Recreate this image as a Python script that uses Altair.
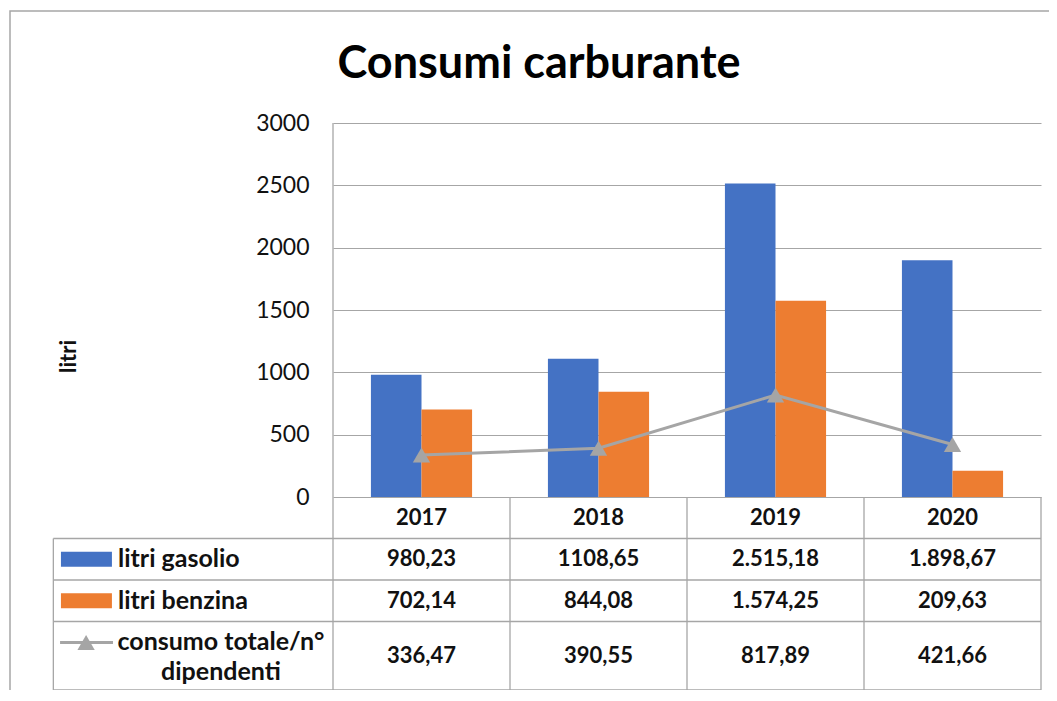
import altair as alt
import pandas as pd

# ---------------- data ----------------
years = ["2017", "2018", "2019", "2020"]
gasolio = [980.23, 1108.65, 2515.18, 1898.67]
benzina = [702.14, 844.08, 1574.25, 209.63]
consumo = [336.47, 390.55, 817.89, 421.66]
gasolio_txt = ["980,23", "1108,65", "2.515,18", "1.898,67"]
benzina_txt = ["702,14", "844,08", "1.574,25", "209,63"]
consumo_txt = ["336,47", "390,55", "817,89", "421,66"]
series_names = ["litri gasolio", "litri benzina", "consumo totale/n° dipendenti"]
y_ticks = [0, 500, 1000, 1500, 2000, 2500, 3000]
title_text = "Consumi carburante"
y_title = "litri"

# ---------------- style / layout ----------------
BLUE = "#4472C4"
ORANGE = "#ED7D31"
GRAY = "#A5A5A5"
LINEC = "#A6A6A6"
TXT = "#111111"
FONT = "Lato"

W = 708          # plot + table width
H = 567          # plot + table height
PLOT_H = 374     # height of the bar plot part
Y_MAX = 3000
y_min = -Y_MAX * (H - PLOT_H) / PLOT_H

ROW_H = [1, 1, 1, 1.65]            # header, gasolio, benzina, consumo (row units)
unit_px = (H - PLOT_H) / sum(ROW_H)
LABEL_COL = 1.58                   # width of the label column, in column units
n = len(years)

edges = [0.0]
for h in ROW_H:
    edges.append(edges[-1] - h)
centers = [(edges[i] + edges[i + 1]) / 2 for i in range(len(ROW_H))]

tx = alt.Scale(domain=[0, n], nice=False, zero=False)
ty = alt.Scale(domain=[edges[-1], PLOT_H / unit_px], nice=False, zero=False)

# ---------------- bar plot ----------------
bars_df = pd.DataFrame({
    "year": years * 2,
    "serie": [series_names[0]] * n + [series_names[1]] * n,
    "value": gasolio + benzina,
})
line_df = pd.DataFrame({"year": years, "value": consumo})

y_scale = alt.Scale(domain=[y_min, Y_MAX], nice=False, zero=False)
x_scale = alt.Scale(domain=years, paddingInner=0, paddingOuter=0)

bars = alt.Chart(bars_df).mark_bar().encode(
    x=alt.X("year:N", scale=x_scale, axis=None),
    xOffset=alt.XOffset("serie:N", scale=alt.Scale(domain=series_names[:2], paddingInner=0, paddingOuter=0.75)),
    y=alt.Y("value:Q", scale=y_scale,
            axis=alt.Axis(values=y_ticks, format="d", grid=True, gridColor=LINEC, gridWidth=1,
                          domain=False, ticks=False, labelPadding=24,
                          labelFont=FONT, labelFontSize=23, labelColor=TXT,
                          title=y_title, titleFont=FONT, titleFontSize=22, titleFontWeight="bold",
                          titleColor=TXT, titleAngle=270, titleX=-265, titleY=233,
                          titleBaseline="middle", titleAlign="center")),
    y2=alt.datum(0),
    color=alt.Color("serie:N", scale=alt.Scale(domain=series_names[:2], range=[BLUE, ORANGE]), legend=None),
)

line = alt.Chart(line_df).mark_line(
    color=GRAY, strokeWidth=3,
    point=alt.OverlayMarkDef(shape="triangle-up", size=300, color=GRAY, filled=True, opacity=1),
).encode(
    x=alt.X("year:N", scale=x_scale, axis=None),
    y=alt.Y("value:Q", scale=y_scale, axis=None),
)

# ---------------- data table ----------------
rules = []
for e in edges[1:]:
    rules.append({"x": -LABEL_COL, "x2": n, "y": e, "y2": e})
for i in range(n + 1):
    top = PLOT_H / unit_px if i == 0 else 0
    rules.append({"x": i, "x2": i, "y": edges[-1], "y2": top})
rules.append({"x": -LABEL_COL, "x2": -LABEL_COL, "y": edges[-1], "y2": edges[1]})
rules_df = pd.DataFrame(rules)

table_rules = alt.Chart(rules_df).mark_rule(color=LINEC, strokeWidth=1.3).encode(
    x=alt.X("x:Q", scale=tx, axis=None), x2="x2:Q",
    y=alt.Y("y:Q", scale=ty, axis=None), y2="y2:Q",
)

cells = []
for r, row in enumerate([years, gasolio_txt, benzina_txt, consumo_txt]):
    for i, t in enumerate(row):
        cells.append({"x": i + 0.5, "y": centers[r], "t": t})
cells_df = pd.DataFrame(cells)

table_text = alt.Chart(cells_df).mark_text(
    font=FONT, fontSize=22, fontWeight="bold", color=TXT, align="center", baseline="middle"
).encode(
    x=alt.X("x:Q", scale=tx, axis=None),
    y=alt.Y("y:Q", scale=ty, axis=None),
    text="t:N",
)

labels_df = pd.DataFrame({"x": [-1.215, -1.215], "y": [centers[1], centers[2]], "t": series_names[:2]})
row_labels = alt.Chart(labels_df).mark_text(
    font=FONT, fontSize=25, fontWeight="bold", color=TXT, align="left", baseline="middle"
).encode(
    x=alt.X("x:Q", scale=tx, axis=None),
    y=alt.Y("y:Q", scale=ty, axis=None),
    text="t:N",
)

first_line_y = centers[3] + 0.32
wrap_df = pd.DataFrame({"x": [-0.633], "y": [first_line_y], "t": [series_names[2].replace("/n° ", "/n°\n")]})
wrap_label = alt.Chart(wrap_df).mark_text(
    font=FONT, fontSize=25, fontWeight="bold", color=TXT, align="center", baseline="middle",
    lineBreak="\n", lineHeight=30,
).encode(
    x=alt.X("x:Q", scale=tx, axis=None),
    y=alt.Y("y:Q", scale=ty, axis=None),
    text="t:N",
)

sw_df = pd.DataFrame({
    "x": [-1.537, -1.537], "x2": [-1.249, -1.249],
    "y": [centers[1] - 0.18, centers[2] - 0.18], "y2": [centers[1] + 0.18, centers[2] + 0.18],
    "serie": series_names[:2],
})
swatches = alt.Chart(sw_df).mark_rect().encode(
    x=alt.X("x:Q", scale=tx, axis=None), x2="x2:Q",
    y=alt.Y("y:Q", scale=ty, axis=None), y2="y2:Q",
    color=alt.Color("serie:N", scale=alt.Scale(domain=series_names[:2], range=[BLUE, ORANGE]), legend=None),
)

sym_line_df = pd.DataFrame({"x": [-1.542], "x2": [-1.243], "y": [first_line_y]})
sym_line = alt.Chart(sym_line_df).mark_rule(color=GRAY, strokeWidth=3).encode(
    x=alt.X("x:Q", scale=tx, axis=None), x2="x2:Q",
    y=alt.Y("y:Q", scale=ty, axis=None),
)
sym_pt_df = pd.DataFrame({"x": [-1.395], "y": [first_line_y]})
sym_pt = alt.Chart(sym_pt_df).mark_point(shape="triangle-up", size=300, color=GRAY, filled=True, opacity=1).encode(
    x=alt.X("x:Q", scale=tx, axis=None),
    y=alt.Y("y:Q", scale=ty, axis=None),
)

# ---------------- title and frame ----------------
one = pd.DataFrame({"t": [title_text]})
title = alt.Chart(one).mark_text(
    font=FONT, fontSize=45, fontWeight="bold", color="#000000", align="center", baseline="alphabetic"
).encode(x=alt.value(206), y=alt.value(-45), text="t:N")

frame = alt.Chart(one).mark_rect(fill=None, stroke=LINEC, strokeWidth=1.5).encode(
    x=alt.value(-323), x2=alt.value(W + 40), y=alt.value(-112), y2=alt.value(H + 40)
)

chart = alt.layer(
    frame, bars, line, table_rules, table_text, row_labels, wrap_label, swatches, sym_line, sym_pt, title
).resolve_scale(
    x="independent", y="independent", color="independent"
).properties(
    width=W, height=H,
    autosize=alt.AutoSizeParams(type="none"),
    padding={"left": 325, "top": 115, "right": 8, "bottom": 0},
    background="white",
).configure_view(stroke=None)

chart.save("out.html", embed_options={"renderer": "svg", "actions": False})
